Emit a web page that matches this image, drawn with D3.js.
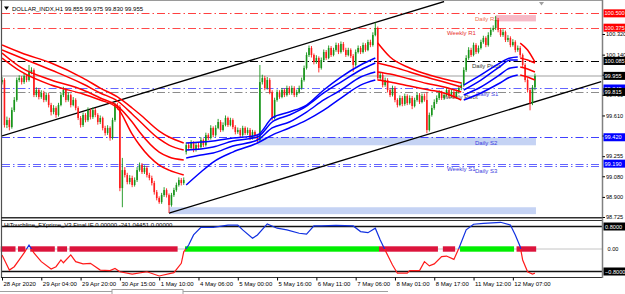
<!DOCTYPE html>
<html>
<head>
<meta charset="utf-8">
<script src="https://cdn.jsdelivr.net/npm/d3@7"></script>
<style>
  html, body { margin: 0; padding: 0; background: #fff; }
  svg { display: block; font-family: "Liberation Sans", Arial, sans-serif; }
</style>
</head>
<body>
<svg width="625" height="294"></svg>
<script>
// DOLLAR_INDX H1, 28 Apr - 12 May 2020, one entry per hourly bar
const symbol = "DOLLAR_INDX,H1";

const opens = [
  99.900, 99.919, 99.527, 99.570, 99.509, 99.657, 99.745, 99.919, 99.936, 99.901,
  99.954, 99.919, 99.989, 100.006, 99.788, 99.832, 99.771, 99.806, 99.745, 99.788,
  99.701, 99.640, 99.675, 99.614, 99.701, 99.788, 99.832, 99.745, 99.788, 99.701,
  99.745, 99.675, 99.588, 99.527, 99.614, 99.570, 99.657, 99.596, 99.657, 99.614,
  99.553, 99.588, 99.501, 99.457, 99.501, 99.413, 99.570, 99.701, 99.684, 98.977,
  99.134, 99.091, 99.030, 99.065, 99.004, 99.047, 99.134, 99.178, 99.117, 99.152,
  99.091, 99.065, 99.021, 98.942, 98.890, 98.855, 98.916, 98.960, 98.916, 98.829,
  98.916, 98.960, 99.004, 99.047, 99.021, 99.291, 99.352, 99.326, 99.370, 99.309,
  99.352, 99.335, 99.396, 99.352, 99.439, 99.413, 99.501, 99.439, 99.501, 99.553,
  99.483, 99.527, 99.588, 99.527, 99.570, 99.509, 99.466, 99.483, 99.439, 99.501,
  99.457, 99.483, 99.413, 99.466, 99.431, 99.396, 99.901, 99.936, 99.849, 99.919,
  99.814, 99.588, 99.745, 99.814, 99.771, 99.832, 99.788, 99.849, 99.806, 99.849,
  99.788, 99.814, 99.849, 99.919, 100.024, 100.137, 100.198, 100.137, 100.076, 100.111,
  100.024, 100.093, 100.163, 100.111, 100.198, 100.137, 100.181, 100.224, 100.163, 100.233,
  100.181, 100.137, 100.181, 100.128, 100.050, 100.163, 100.198, 100.163, 100.224, 100.181,
  100.250, 100.224, 100.311, 100.372, 99.936, 99.963, 99.875, 99.919, 99.832, 99.788,
  99.849, 99.745, 99.701, 99.762, 99.710, 99.779, 99.718, 99.762, 99.692, 99.745,
  99.788, 99.727, 99.779, 99.745, 99.483, 99.614, 99.675, 99.727, 99.762, 99.806,
  99.762, 99.788, 99.832, 99.779, 99.814, 99.771, 99.814, 99.849, 99.875, 100.006,
  100.111, 100.181, 100.137, 100.224, 100.163, 100.198, 100.250, 100.285, 100.224, 100.311,
  100.355, 100.372, 100.442, 100.355, 100.311, 100.337, 100.268, 100.285, 100.224, 100.250,
  100.181, 100.198, 100.137, 100.050, 99.919, 99.832, 99.718, 99.855
];
const highs = [
  99.945, 99.935, 99.600, 99.590, 99.680, 99.770, 99.940, 99.960, 99.955, 99.975,
  99.970, 100.050, 100.030, 100.020, 99.855, 99.850, 99.830, 99.825, 99.810, 99.805,
  99.720, 99.700, 99.690, 99.720, 99.810, 99.860, 99.850, 99.810, 99.800, 99.770,
  99.760, 99.690, 99.605, 99.635, 99.630, 99.680, 99.670, 99.680, 99.675, 99.630,
  99.610, 99.600, 99.520, 99.525, 99.515, 99.590, 99.720, 99.720, 99.700, 99.240,
  99.160, 99.110, 99.090, 99.085, 99.070, 99.160, 99.200, 99.195, 99.175, 99.170,
  99.110, 99.085, 99.040, 98.960, 98.905, 98.935, 98.985, 98.975, 98.930, 98.935,
  98.980, 99.025, 99.070, 99.065, 99.070, 99.375, 99.370, 99.395, 99.385, 99.375,
  99.370, 99.420, 99.410, 99.460, 99.455, 99.525, 99.515, 99.525, 99.580, 99.570,
  99.550, 99.610, 99.600, 99.590, 99.585, 99.525, 99.505, 99.500, 99.520, 99.515,
  99.505, 99.500, 99.485, 99.480, 99.450, 100.050, 99.965, 99.955, 99.945, 99.935,
  99.830, 99.765, 99.835, 99.830, 99.850, 99.845, 99.870, 99.865, 99.870, 99.865,
  99.835, 99.870, 99.940, 100.045, 100.160, 100.220, 100.215, 100.150, 100.135, 100.125,
  100.115, 100.185, 100.180, 100.220, 100.215, 100.200, 100.245, 100.240, 100.255, 100.250,
  100.200, 100.200, 100.195, 100.145, 100.185, 100.220, 100.215, 100.245, 100.240, 100.270,
  100.270, 100.335, 100.420, 100.385, 99.990, 99.980, 99.940, 99.935, 99.850, 99.870,
  99.865, 99.760, 99.785, 99.780, 99.800, 99.795, 99.785, 99.780, 99.765, 99.810,
  99.805, 99.800, 99.800, 99.815, 99.635, 99.700, 99.750, 99.785, 99.830, 99.825,
  99.810, 99.855, 99.850, 99.835, 99.830, 99.835, 99.870, 99.900, 100.030, 100.135,
  100.205, 100.200, 100.245, 100.240, 100.220, 100.270, 100.305, 100.300, 100.335, 100.375,
  100.395, 100.477, 100.460, 100.370, 100.360, 100.350, 100.310, 100.300, 100.275, 100.265,
  100.220, 100.215, 100.150, 100.065, 99.935, 99.850, 99.875, 99.975
];
const lows = [
  99.880, 99.505, 99.500, 99.480, 99.495, 99.640, 99.730, 99.900, 99.880, 99.885,
  99.900, 99.905, 99.970, 99.770, 99.770, 99.750, 99.755, 99.725, 99.730, 99.680,
  99.610, 99.620, 99.590, 99.600, 99.690, 99.770, 99.725, 99.730, 99.680, 99.690,
  99.655, 99.570, 99.505, 99.510, 99.550, 99.555, 99.575, 99.580, 99.595, 99.530,
  99.535, 99.480, 99.435, 99.440, 99.390, 99.400, 99.555, 99.660, 98.950, 98.810,
  99.070, 99.010, 99.010, 98.985, 98.990, 99.030, 99.120, 99.100, 99.100, 99.070,
  99.045, 99.000, 98.920, 98.870, 98.840, 98.840, 98.900, 98.895, 98.760, 98.815,
  98.900, 98.945, 98.990, 99.000, 99.005, 99.270, 99.305, 99.310, 99.290, 99.295,
  99.315, 99.320, 99.335, 99.340, 99.395, 99.400, 99.420, 99.425, 99.490, 99.465,
  99.470, 99.515, 99.510, 99.515, 99.490, 99.445, 99.450, 99.420, 99.425, 99.440,
  99.440, 99.395, 99.400, 99.410, 99.375, 99.385, 99.880, 99.830, 99.835, 99.795,
  99.565, 99.575, 99.730, 99.755, 99.760, 99.770, 99.775, 99.790, 99.790, 99.770,
  99.770, 99.800, 99.835, 99.905, 100.010, 100.120, 100.115, 100.055, 100.060, 99.985,
  100.010, 100.080, 100.095, 100.100, 100.120, 100.125, 100.165, 100.145, 100.150, 100.165,
  100.120, 100.125, 100.110, 99.990, 100.035, 100.150, 100.145, 100.150, 100.165, 100.170,
  100.205, 100.210, 100.300, 99.915, 99.915, 99.855, 99.860, 99.810, 99.770, 99.775,
  99.725, 99.680, 99.690, 99.690, 99.695, 99.700, 99.705, 99.665, 99.680, 99.730,
  99.710, 99.715, 99.730, 99.455, 99.470, 99.600, 99.660, 99.710, 99.745, 99.745,
  99.745, 99.775, 99.760, 99.765, 99.755, 99.755, 99.800, 99.830, 99.860, 99.990,
  100.095, 100.120, 100.125, 100.145, 100.150, 100.185, 100.235, 100.205, 100.210, 100.295,
  100.340, 100.355, 100.335, 100.295, 100.295, 100.250, 100.250, 100.205, 100.210, 100.160,
  100.165, 100.115, 100.030, 99.900, 99.810, 99.655, 99.700, 99.830
];
const closes = [
  99.919, 99.527, 99.570, 99.509, 99.657, 99.745, 99.919, 99.936, 99.901, 99.954,
  99.919, 99.989, 100.006, 99.788, 99.832, 99.771, 99.806, 99.745, 99.788, 99.701,
  99.640, 99.675, 99.614, 99.701, 99.788, 99.832, 99.745, 99.788, 99.701, 99.745,
  99.675, 99.588, 99.527, 99.614, 99.570, 99.657, 99.596, 99.657, 99.614, 99.553,
  99.588, 99.501, 99.457, 99.501, 99.413, 99.570, 99.701, 99.684, 98.977, 99.134,
  99.091, 99.030, 99.065, 99.004, 99.047, 99.134, 99.178, 99.117, 99.152, 99.091,
  99.065, 99.021, 98.942, 98.890, 98.855, 98.916, 98.960, 98.916, 98.829, 98.916,
  98.960, 99.004, 99.047, 99.021, 99.047, 99.352, 99.326, 99.370, 99.309, 99.352,
  99.335, 99.396, 99.352, 99.439, 99.413, 99.501, 99.439, 99.501, 99.553, 99.483,
  99.527, 99.588, 99.527, 99.570, 99.509, 99.466, 99.483, 99.439, 99.501, 99.457,
  99.483, 99.413, 99.466, 99.431, 99.396, 99.901, 99.936, 99.849, 99.919, 99.814,
  99.588, 99.745, 99.814, 99.771, 99.832, 99.788, 99.849, 99.806, 99.849, 99.788,
  99.814, 99.849, 99.919, 100.024, 100.137, 100.198, 100.137, 100.076, 100.111, 100.024,
  100.093, 100.163, 100.111, 100.198, 100.137, 100.181, 100.224, 100.163, 100.233, 100.181,
  100.137, 100.181, 100.128, 100.050, 100.163, 100.198, 100.163, 100.224, 100.181, 100.250,
  100.224, 100.311, 100.372, 99.936, 99.963, 99.875, 99.919, 99.832, 99.788, 99.849,
  99.745, 99.701, 99.762, 99.710, 99.779, 99.718, 99.762, 99.692, 99.745, 99.788,
  99.727, 99.779, 99.745, 99.483, 99.614, 99.675, 99.727, 99.762, 99.806, 99.762,
  99.788, 99.832, 99.779, 99.814, 99.771, 99.814, 99.849, 99.875, 100.006, 100.111,
  100.181, 100.137, 100.224, 100.163, 100.198, 100.250, 100.285, 100.224, 100.311, 100.355,
  100.372, 100.442, 100.355, 100.311, 100.337, 100.268, 100.285, 100.224, 100.250, 100.181,
  100.198, 100.137, 100.050, 99.919, 99.832, 99.718, 99.855, 99.955
];

// moving average bands, sampled at these bars; D = red (down), U = blue (up)
const maBars = [0, 8, 20, 33, 40, 47, 53, 56, 64, 68, 74,
  75, 81, 86, 94, 104, 110, 117, 124, 131, 138, 146, 152,
  153, 158, 166, 174, 180, 187,
  188, 195, 202, 207, 210,
  211, 214, 217];
const maTrend = "DDDDDDDDDDDUUUUUUUUUUUUDDDDDDUUUUUDDD";
const ma1 = [100.224, 100.154, 100.067, 99.936, 99.849, 99.771, 99.675, 99.623, 99.474, 99.422, 99.370,
  99.370, 99.378, 99.387, 99.413, 99.439, 99.588, 99.640, 99.701, 99.832, 99.945, 100.050, 100.111,
  100.241, 100.119, 100.024, 99.963, 99.928, 99.893,
  99.875, 99.963, 100.058, 100.111, 100.119,
  100.241, 100.181, 100.076];
const ma2 = [100.181, 100.111, 100.006, 99.884, 99.806, 99.736, 99.623, 99.562, 99.405, 99.352, 99.309,
  99.309, 99.318, 99.335, 99.387, 99.422, 99.553, 99.614, 99.692, 99.806, 99.901, 100.006, 100.067,
  100.067, 100.041, 99.989, 99.936, 99.901, 99.858,
  99.832, 99.919, 100.024, 100.093, 100.093,
  100.111, 100.093, 100.067];
const ma3 = [100.154, 100.024, 99.919, 99.832, 99.762, 99.692, 99.553, 99.466, 99.291, 99.248, 99.222,
  99.239, 99.265, 99.282, 99.344, 99.396, 99.501, 99.553, 99.640, 99.745, 99.832, 99.945, 99.989,
  99.989, 99.971, 99.928, 99.884, 99.858, 99.814,
  99.788, 99.858, 99.954, 100.024, 100.032,
  100.032, 100.015, 99.989];
const ma4 = [100.111, 99.989, 99.875, 99.797, 99.745, 99.675, 99.448, 99.352, 99.178, 99.134, 99.091,
  99.004, 99.117, 99.204, 99.291, 99.370, 99.439, 99.501, 99.570, 99.657, 99.762, 99.875, 99.919,
  99.919, 99.901, 99.866, 99.832, 99.806, 99.745,
  99.745, 99.806, 99.884, 99.945, 99.963,
  99.963, 99.945, 99.919];

// pivot levels
const levelNames = ["Daily R1", "Weekly R1", "Daily Pivot", "Daily S1", "Weekly Pivot", "Daily S2", "Weekly S1", "Daily S3"];
const levelPrices = [100.500, 100.375, 100.085, 99.845, 99.815, 99.420, 99.190, 99.170];

// zones (bar from, bar to, price top, price bottom)
const zoneFrom = [201, 104, 68];
const zoneTo = [217, 217, 217];
const zoneTop = [100.485, 99.420, 98.810];
const zoneBottom = [100.430, 99.350, 98.750];

// trend channel: two points each
const channelBars = [[0, 180], [68, 244]];
const channelPrices = [[99.431, 100.603], [98.759, 99.905]];

const priceTicks = [100.320, 100.140, 99.965, 99.790, 99.610, 99.435, 99.255, 99.080, 98.900, 98.725];
const timeBars = [0, 16, 32, 48, 64, 80, 96, 112, 128, 144, 160, 176, 192, 208];
const timeLabels = ["28 Apr 2020", "29 Apr 04:00", "29 Apr 20:00", "30 Apr 15:00", "1 May 10:00", "4 May 06:00",
  "5 May 00:00", "5 May 16:00", "6 May 11:00", "7 May 06:00", "8 May 01:00", "8 May 17:00", "11 May 12:00", "12 May 07:00"];

// lower window indicator
const indName = "HiTouchline_FXprime_V3 Final IE 0.00000 -241.04451 0.00000";
const indBars = [0, 3, 5, 9, 11, 13, 16, 20, 22, 24, 25, 28, 30, 33, 36, 40, 44, 46, 48, 53, 59, 64, 70, 73, 74,
  76, 78, 81, 86, 92, 96, 98, 102, 104, 108, 112, 116, 121, 124, 127, 130, 136, 143, 146, 149, 152, 154,
  156, 159, 161, 165, 166, 170, 172, 174, 176, 179, 181, 184, 186, 189, 192, 196, 203, 207, 209, 211,
  212, 214, 216, 217];
const indValues = [-0.21, -0.75, -0.63, -0.14, 0.14, -0.14, -0.45, -0.71, -0.63, -0.39, -0.49, -0.21, -0.45, -0.53, -0.51,
  -0.75, -0.77, -0.69, -0.81, -0.89, -0.81, -0.96, -0.84, -0.51, -0.10,
  0.14, 0.50, 0.77, 0.77, 0.85, 0.85, 0.68, 0.38, 0.50, 0.89, 0.74, 0.68, 0.56, 0.53, 0.82, 0.82, 0.84, 0.82,
  0.62, 0.58, 0.74, 0.32,
  -0.04, -0.57, -0.86, -0.86, -0.77, -0.77, -0.45, -0.60, -0.53, -0.27, -0.25, -0.37, 0.02, 0.68, 0.88, 0.91,
  0.95, 0.85, 0.50, 0.08,
  -0.39, -0.81, -0.89, -0.86];
const stateFrom = [0, 7, 12, 23, 28, 75, 154, 180, 187, 210];
const stateTo = [5, 9, 21, 26, 71, 153, 177, 184, 208, 217];
const stateSign = [-1, -1, -1, -1, -1, 1, -1, -1, 1, -1];

const svg = d3.select("svg");
const x = d3.scaleLinear().domain([0, 244.3]).range([2, 602]);
const y = d3.scaleLinear().domain([98.725, 100.320]).range([217, 34]);
const yi = d3.scaleLinear().domain([-0.8, 0.8]).range([271.5, 226.5]);
const step = x(1) - x(0);
const fmt = d3.format(".3f");
const last = closes.length - 1;
const axisFont = 5.6;

const defs = svg.append("defs");
defs.append("clipPath").attr("id", "clipMain").append("rect")
  .attr("x", 2).attr("y", 1).attr("width", 600).attr("height", 216.5);
defs.append("clipPath").attr("id", "clipPos").append("rect")
  .attr("x", 2).attr("y", 221).attr("width", 600).attr("height", yi(0) - 221);
defs.append("clipPath").attr("id", "clipNeg").append("rect")
  .attr("x", 2).attr("y", yi(0)).attr("width", 600).attr("height", 277 - yi(0));

const main = svg.append("g").attr("clip-path", "url(#clipMain)");

// zones
const zoneFill = ["#f7b9c6", "#c5d3f4", "#c5d3f4"];
main.selectAll("rect.zone").data(zoneTop).join("rect")
  .attr("x", (d, i) => x(zoneFrom[i]))
  .attr("width", (d, i) => x(zoneTo[i]) - x(zoneFrom[i]) + 1)
  .attr("y", d => y(d))
  .attr("height", (d, i) => y(zoneBottom[i]) - y(d))
  .attr("fill", (d, i) => zoneFill[i]);

// pivot lines
const levelStyle = {
  "Daily R1":     { stroke: "#ff4040", text: "#f07050", lx: 475, box: "#ff0000" },
  "Weekly R1":    { stroke: "#ff4a4a", text: "#e83030", lx: 447, box: "#ff0000" },
  "Daily Pivot":  { stroke: "#000000", text: "#333333", lx: 472, box: "#000000" },
  "Daily S1":     { stroke: "#6464ff", text: "#3d3de0", lx: 476, box: "#0000ff" },
  "Weekly Pivot": { stroke: "#8c8c8c", text: "#444444", lx: 443, box: "#000000" },
  "Daily S2":     { stroke: "#4040ff", text: "#3d3de0", lx: 475, box: "#0000ff" },
  "Weekly S1":    { stroke: "#6464ff", text: "#3d3de0", lx: 447, box: "#0000ff" },
  "Daily S3":     { stroke: "#6464ff", text: "#3d3de0", lx: 475, box: null }
};
main.selectAll("line.level").data(levelPrices).join("line")
  .attr("x1", 2).attr("x2", 602)
  .attr("y1", d => Math.round(y(d)) + 0.5).attr("y2", d => Math.round(y(d)) + 0.5)
  .attr("stroke", (d, i) => levelStyle[levelNames[i]].stroke)
  .attr("stroke-width", 1.2)
  .attr("stroke-dasharray", "8,3,1.5,3");

// bid line
main.append("line")
  .attr("x1", 2).attr("x2", 602)
  .attr("y1", y(closes[last])).attr("y2", y(closes[last]))
  .attr("stroke", "#cfcfcf").attr("stroke-width", 2);

// level labels
main.selectAll("text.level").data(levelPrices).join("text")
  .attr("x", (d, i) => levelStyle[levelNames[i]].lx)
  .attr("y", d => y(d) + 7.5)
  .attr("font-size", 6)
  .attr("fill", (d, i) => levelStyle[levelNames[i]].text)
  .text((d, i) => levelNames[i]);

// channel
main.selectAll("line.channel").data(channelBars).join("line")
  .attr("x1", d => x(d[0])).attr("x2", d => x(d[1]))
  .attr("y1", (d, i) => y(channelPrices[i][0])).attr("y2", (d, i) => y(channelPrices[i][1]))
  .attr("stroke", "#000").attr("stroke-width", 1.3);

// candles
const idx = d3.range(closes.length);
const candleColor = i => closes[i] > opens[i] ? "#17941a" : closes[i] < opens[i] ? "#ff1a1a" : "#808080";
main.append("g").selectAll("line").data(idx).join("line")
  .attr("x1", i => x(i)).attr("x2", i => x(i))
  .attr("y1", i => y(highs[i])).attr("y2", i => y(lows[i]))
  .attr("stroke", candleColor).attr("stroke-width", 0.9);
main.append("g").selectAll("rect").data(idx).join("rect")
  .attr("x", i => x(i) - 0.8).attr("width", 1.6)
  .attr("y", i => y(Math.max(opens[i], closes[i])))
  .attr("height", i => Math.max(0.8, Math.abs(y(opens[i]) - y(closes[i]))))
  .attr("fill", candleColor);

// moving average bands
const maLine = d3.line().x(d => x(d[0])).y(d => y(d[1])).curve(d3.curveMonotoneX);
const maColor = { D: "#ff0000", U: "#0000ff" };
[ma1, ma2, ma3, ma4].forEach(vals => {
  let run = [];
  const flush = t => {
    main.append("path").attr("d", maLine(run)).attr("fill", "none")
      .attr("stroke", maColor[t]).attr("stroke-width", 1.5);
  };
  maBars.forEach((b, k) => {
    if (k > 0 && maTrend[k] !== maTrend[k - 1]) { flush(maTrend[k - 1]); run = []; }
    run.push([b, vals[k]]);
  });
  flush(maTrend[maBars.length - 1]);
});

// title
svg.append("path").attr("d", "M4,6.5 L9,6.5 L6.5,10 Z").attr("fill", "#000");
svg.append("text").attr("x", 12).attr("y", 10.5).attr("font-size", 6).attr("fill", "#000")
  .text(symbol + "  " + [opens[last], highs[last], lows[last], closes[last]].map(fmt).join(" "));
svg.append("path").attr("d", "M539,2 L544,2 L541.5,5.5 Z").attr("fill", "#a0a0a0");

// ---------- indicator window ----------
const ind = svg.append("g");
ind.append("line").attr("x1", 2).attr("x2", 602).attr("y1", yi(0)).attr("y2", yi(0))
  .attr("stroke", "#c4c4c4").attr("stroke-width", 1);
[0.8, -0.8].forEach(v => {
  ind.append("line").attr("x1", 2).attr("x2", 602).attr("y1", yi(v)).attr("y2", yi(v))
    .attr("stroke", "#111").attr("stroke-width", 1.4);
});
ind.selectAll("rect.state").data(stateFrom).join("rect")
  .attr("x", (d, i) => x(d) - step / 2)
  .attr("width", (d, i) => x(stateTo[i]) - x(d) + step)
  .attr("y", yi(0) - 2.7).attr("height", 5.4)
  .attr("fill", (d, i) => stateSign[i] > 0 ? "#00ee00" : "#dc143c");
const indLine = d3.line().x((d, i) => x(indBars[i])).y(d => yi(d));
ind.append("path").attr("d", indLine(indValues)).attr("fill", "none")
  .attr("stroke", "#1030e0").attr("stroke-width", 1.2).attr("clip-path", "url(#clipPos)");
ind.append("path").attr("d", indLine(indValues)).attr("fill", "none")
  .attr("stroke", "#ff1a1a").attr("stroke-width", 1.2).attr("clip-path", "url(#clipNeg)");
ind.append("text").attr("x", 4).attr("y", 226.5).attr("font-size", 6).attr("fill", "#000").text(indName);

// ---------- frames ----------
const frame = svg.append("g").attr("fill", "none");
frame.append("line").attr("x1", 0).attr("x2", 603).attr("y1", 0.5).attr("y2", 0.5).attr("stroke", "#9a9a9a");
frame.append("line").attr("x1", 1.5).attr("x2", 1.5).attr("y1", 0).attr("y2", 278).attr("stroke", "#505050").attr("stroke-width", 1.2);
frame.append("line").attr("x1", 1).attr("x2", 603).attr("y1", 217.8).attr("y2", 217.8).attr("stroke", "#303030").attr("stroke-width", 1.5);
frame.append("line").attr("x1", 1).attr("x2", 603).attr("y1", 220.5).attr("y2", 220.5).attr("stroke", "#303030").attr("stroke-width", 1.2);
frame.append("line").attr("x1", 1).attr("x2", 603).attr("y1", 277.5).attr("y2", 277.5).attr("stroke", "#303030").attr("stroke-width", 1.2);
frame.append("line").attr("x1", 602.5).attr("x2", 602.5).attr("y1", 0).attr("y2", 278).attr("stroke", "#808080").attr("stroke-width", 1.5);

// price axis
const pAxis = svg.append("g").attr("transform", "translate(602.5,0)")
  .call(d3.axisRight(y).tickValues(priceTicks).tickSize(2.5).tickPadding(1).tickFormat(fmt));
pAxis.select(".domain").remove();
pAxis.selectAll("text").attr("font-size", axisFont).attr("font-family", null).attr("fill", "#000");
pAxis.selectAll("line").attr("stroke", "#000");

function priceBox(v, fill, label) {
  svg.append("rect").attr("x", 603.5).attr("y", y(v) - 4).attr("width", 21.5).attr("height", 8).attr("fill", fill);
  svg.append("text").attr("x", 604.5).attr("y", y(v)).attr("dy", "0.36em")
    .attr("font-size", axisFont).attr("fill", "#fff").text(label);
}
levelPrices.forEach((v, i) => {
  const s = levelStyle[levelNames[i]];
  if (s.box) priceBox(v, s.box, fmt(v));
});
priceBox(closes[last], "#000", fmt(closes[last]));

// indicator axis
const iAxis = svg.append("g").attr("transform", "translate(602.5,0)");
iAxis.append("text").attr("x", 5).attr("y", yi(0)).attr("dy", "0.36em").attr("font-size", axisFont).text("0.00");
[0.8, -0.8].forEach(v => {
  iAxis.append("rect").attr("x", 1).attr("y", yi(v) - 4).attr("width", 21.5).attr("height", 8).attr("fill", "#000");
  iAxis.append("text").attr("x", 2.5).attr("y", yi(v)).attr("dy", "0.36em").attr("font-size", axisFont)
    .attr("fill", "#fff").text(d3.format(".4f")(v));
});

// time axis
const tAxis = svg.append("g").attr("transform", "translate(0,277.5)")
  .call(d3.axisBottom(x).tickValues(timeBars).tickSize(3).tickPadding(1).tickFormat((d, i) => timeLabels[i]));
tAxis.select(".domain").remove();
tAxis.selectAll("text").attr("font-size", 6).attr("font-family", null).attr("fill", "#000")
  .attr("text-anchor", "start").attr("x", 1);
tAxis.selectAll("line").attr("stroke", "#000");

// tab strip
svg.append("line").attr("x1", 0).attr("x2", 388).attr("y1", 291.5).attr("y2", 291.5).attr("stroke", "#a0a0a0");
svg.append("rect").attr("x", 112).attr("y", 289.5).attr("width", 71).attr("height", 6)
  .attr("fill", "#fff").attr("stroke", "#a0a0a0");
</script>
</body>
</html>
